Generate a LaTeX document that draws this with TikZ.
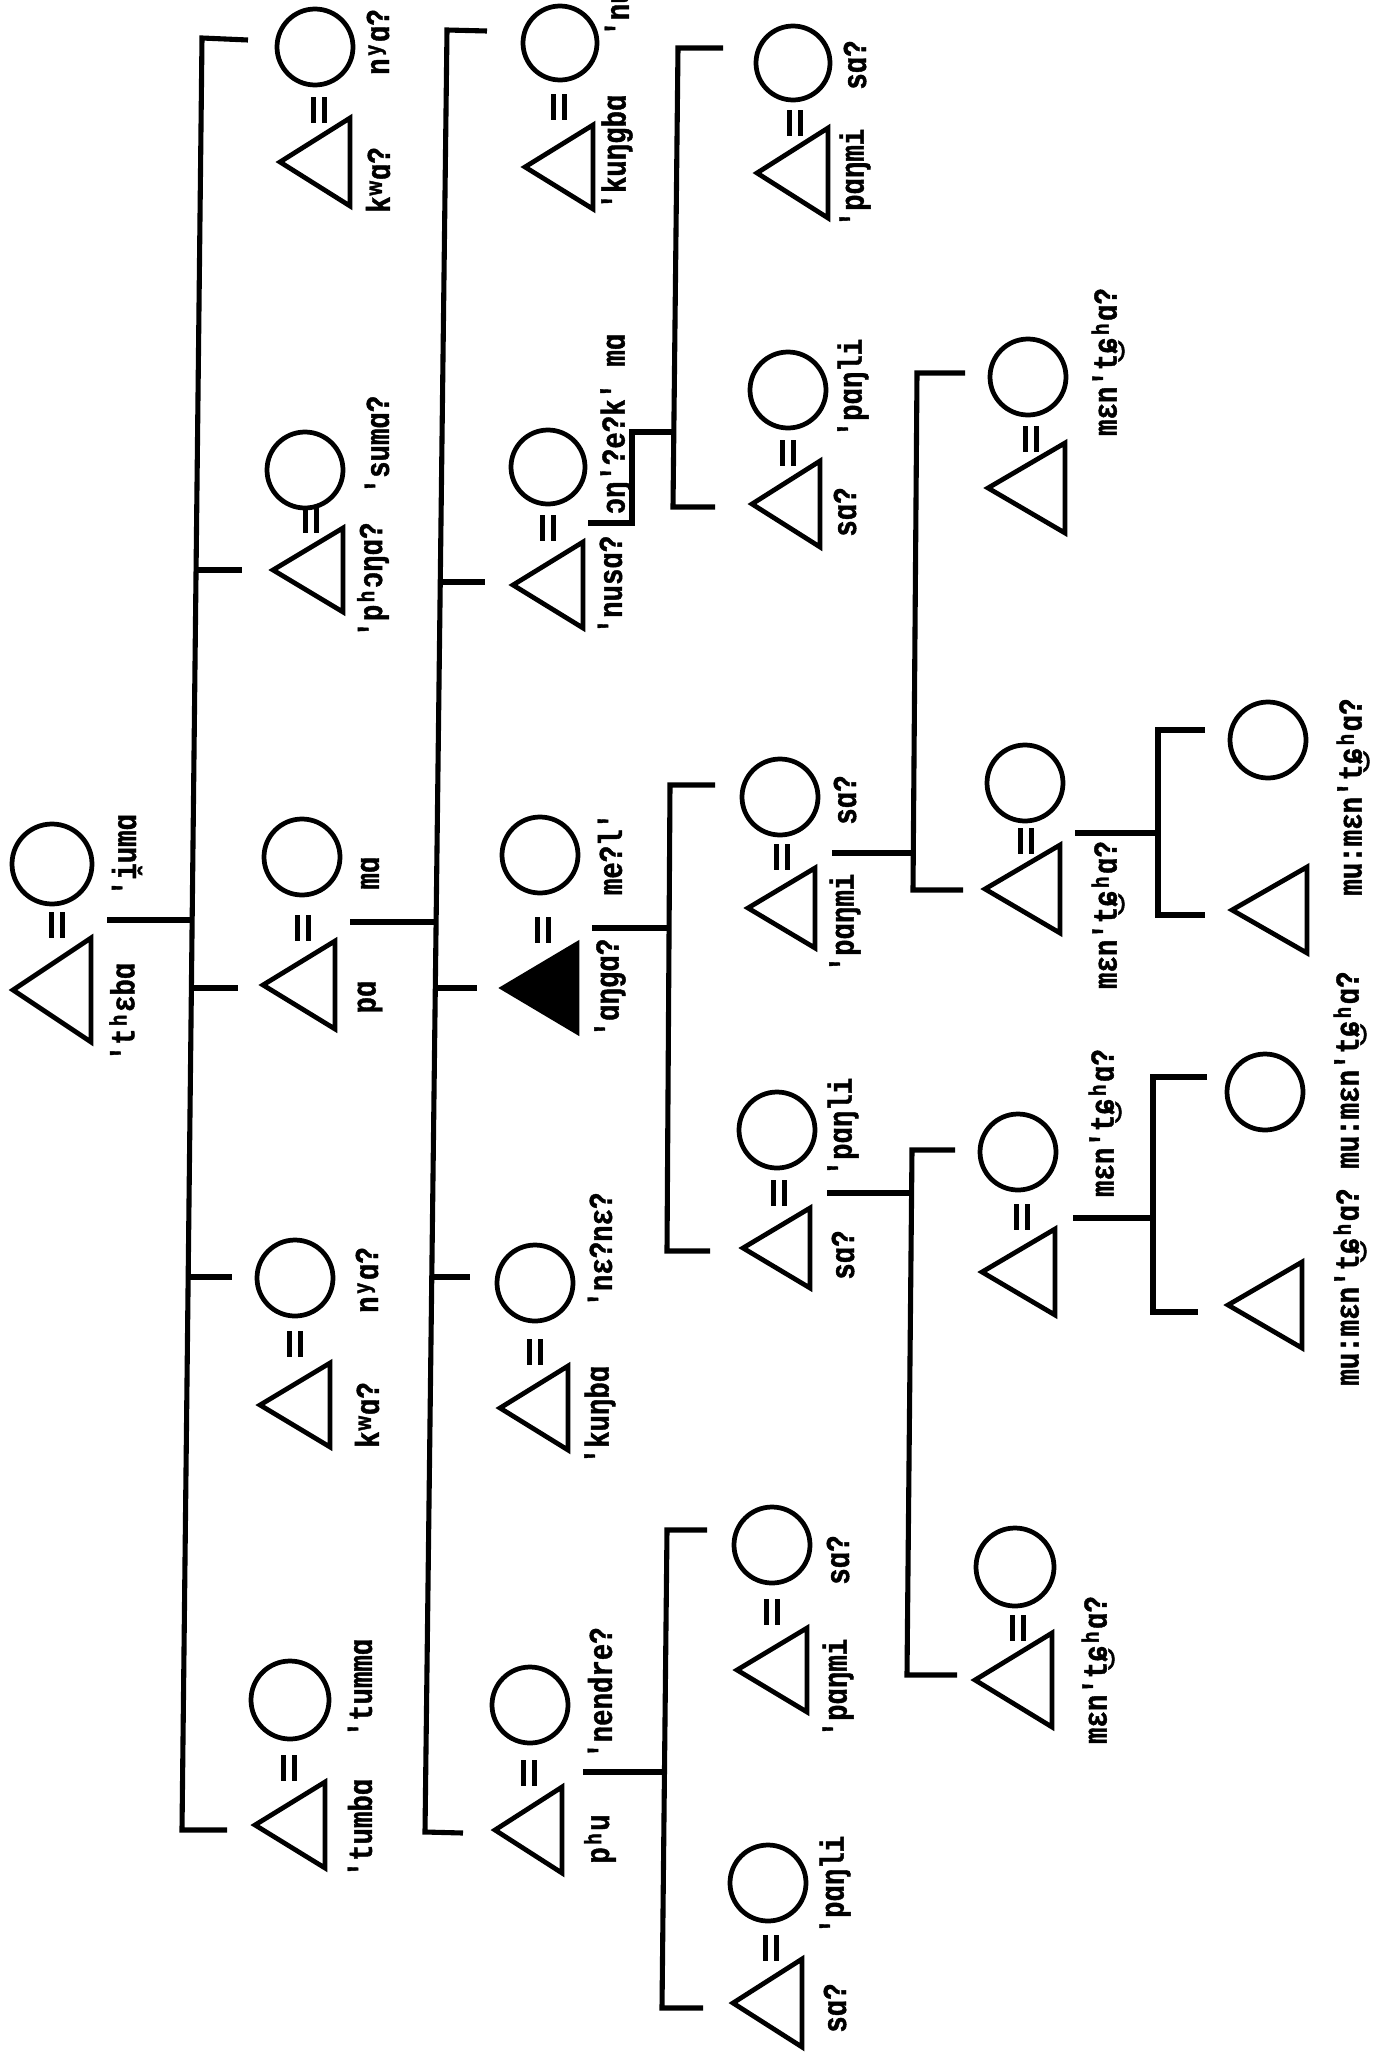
\documentclass[tikz,border=0pt]{standalone}
\usepackage{fontspec}
\newfontfamily\tw{Liberation Mono}[FakeStretch=0.82, BoldFeatures={FakeBold=1.2}]
\newcommand\tri[4]{\draw[shp] (#1,#2) -- ({#3},{#2-#4}) -- ({#3},{#2+#4}) -- cycle;}
\newcommand\ftri[4]{\filldraw[shp] (#1,#2) -- ({#3},{#2-#4}) -- ({#3},{#2+#4}) -- cycle;}
\newcommand\cir[3]{\draw[shp] (#1,#2) circle[radius=#3];}
\newcommand\eqs[2]{\draw[eqline] ({#1-5.5},{#2-13}) -- ({#1-5.5},{#2+13}) ({#1+5.5},{#2-13}) -- ({#1+5.5},{#2+13});}
\begin{document}
\begin{tikzpicture}[x=0.02cm,y=-0.02cm,
  ln/.style={line width=2.9pt, line join=miter},
  shp/.style={line width=2.7pt, line join=miter},
  eqline/.style={line width=2.5pt},
  lbl/.style={rotate=90, inner sep=0pt, font=\tw\bfseries\fontsize{19}{19}\selectfont}]
\useasboundingbox (0,0) rectangle (1376,2052);
\fill[white] (0,0) rectangle (1376,2052);

% ---------- generation 1 ----------
\tri{13}{990}{91}{52}
\cir{52}{864}{40}
\eqs{57}{925}
\node[lbl] (l01) at (122,1012) {'tʰɛbɑ};
\node[lbl] (l02) at (127,855) {'i̯umɑ};
\draw[ln] (107,920) -- (192,920);
\draw[ln] (248,40) -- (202,38) -- (182,1830) -- (227,1830);
\draw[ln] (196,570) -- (242,570);
\draw[ln] (191.5,988) -- (238,988);
\draw[ln] (188,1277) -- (232,1277);

% ---------- generation 2 ----------
\cir{315}{47}{38} \tri{280}{162}{350}{44} \eqs{319}{110}
\node[lbl] (l03) at (378,42) {nʸɑ?};
\node[lbl] (l04) at (378,180) {kʷɑ?};

\tri{273}{570}{343}{42} \cir{305}{470}{38} \eqs{311}{520}
\node[lbl] (l05) at (373,580) {'pʰɔŋɑ?};
\node[lbl] (l06) at (377,445) {'sumɑ?};

\cir{302}{857}{38} \tri{263}{985}{335}{44} \eqs{303}{928}
\node[lbl] (l07) at (370,873) {mɑ};
\node[lbl] (l08) at (370,997) {pɑ};
\draw[ln] (350,922) -- (436,922);

\cir{295}{1278}{38} \tri{260}{1405}{330}{42} \eqs{295}{1344}
\node[lbl] (l09) at (367,1280) {nʸɑ?};
\node[lbl] (l10) at (367,1415) {kʷɑ?};

\tri{255}{1825}{325}{43} \cir{290}{1700}{39} \eqs{289}{1768}
\node[lbl] (l11) at (360,1828) {'tumbɑ};
\node[lbl] (l12) at (360,1688) {'tummɑ};

\draw[ln] (487,31) -- (447,30) -- (425,1832) -- (463,1833);
\draw[ln] (440,582) -- (485,582);
\draw[ln] (435,988) -- (477,988);
\draw[ln] (432,1277) -- (470,1277);

% ---------- children of pa = ma ----------
\cir{560}{43}{37} \tri{525}{167}{593}{42} \eqs{559}{107}
\node[lbl] (l13) at (617,152) {'kuŋgbɑ};
\node[lbl,anchor=west] (l14) at (617,37) {'nusɑ?};

\tri{513}{585}{583}{43} \cir{548}{467}{37} \eqs{548}{528}
\node[lbl] (l15) at (610,585) {'nusɑ?};
\node[lbl] (l16) at (616,424) {ɔŋ'?e?k' mɑ};
\draw[ln] (588,523) -- (632,523) -- (632,432) -- (676,432);

\cir{540}{855}{38} \ftri{503}{988}{577}{44} \eqs{543}{930}
\node[lbl] (l17) at (610,854) {me?l'};
\node[lbl] (l18) at (610,988) {'ɑŋgɑ?};
\draw[ln] (592,928) -- (670,928);

\cir{535}{1283}{38} \tri{500}{1408}{568}{42} \eqs{535}{1352}
\node[lbl] (l19) at (600,1250) {'nɛ?nɛ?};
\node[lbl] (l20) at (600,1415) {'kuŋbɑ};

\cir{530}{1705}{38} \tri{495}{1830}{562}{43} \eqs{529}{1773}
\node[lbl] (l21) at (600,1693) {'nendre?};
\node[lbl] (l22) at (600,1839) {pʰu};
\draw[ln] (583,1772) -- (665,1772);

% ---------- generation 3 ----------
\draw[ln] (715,785) -- (670,785) -- (667,1251) -- (710,1251);
\cir{780}{797}{38} \tri{748}{908}{815}{40} \eqs{782}{857}
\node[lbl] (l23) at (845,800) {sɑ?};
\node[lbl] (l24) at (845,923) {'pɑŋmi};
\draw[ln] (832,853) -- (913,853);

\cir{777}{1130}{38} \tri{743}{1248}{810}{40} \eqs{779}{1193}
\node[lbl] (l25) at (843,1127) {'pɑŋli};
\node[lbl] (l26) at (843,1255) {sɑ?};
\draw[ln] (827,1193) -- (910,1193);

\draw[ln] (707,1530) -- (667,1530) -- (662,2008) -- (703,2008);
\cir{772}{1545}{38} \tri{737}{1670}{807}{42} \eqs{772}{1612}
\node[lbl] (l27) at (838,1560) {sɑ?};
\node[lbl] (l28) at (838,1688) {'pɑŋmi};

\cir{768}{1883}{38} \tri{733}{2003}{802}{44} \eqs{771}{1948}
\node[lbl] (l29) at (835,1885) {'pɑŋli};
\node[lbl] (l30) at (835,2008) {sɑ?};

% ---------- generation 4 (top) ----------
\draw[ln] (723,48) -- (678,48) -- (673,507) -- (715,507);
\cir{793}{63}{37} \tri{757}{173}{828}{45} \eqs{795}{123}
\node[lbl] (l31) at (855,65) {sɑ?};
\node[lbl] (l32) at (855,178) {'pɑŋmi};

\cir{788}{390}{38} \tri{752}{504}{820}{43} \eqs{788}{453}
\node[lbl] (l33) at (853,388) {'pɑŋli};
\node[lbl] (l34) at (845,512) {sɑ?};

% ---------- generation 5 ----------
\draw[ln] (965,373) -- (917,373) -- (913,890) -- (963,890);
\cir{1028}{377}{38} \tri{988}{488}{1065}{45} \eqs{1031}{439}
\node[lbl] (l35) at (1108,362) {mɛn't͜ɕʰɑ?};

\cir{1025}{783}{38} \tri{985}{889}{1060}{44} \eqs{1026}{841}
\node[lbl] (l36) at (1108,915) {mɛn't͜ɕʰɑ?};
\draw[ln] (1075,833) -- (1158,833);
\draw[ln] (1205,730) -- (1158,730) -- (1158,915) -- (1205,915);
\cir{1268}{740}{38} \tri{1232}{910}{1307}{43}
\node[lbl] (l37) at (1353,797) {mu:mɛn't͜ɕʰɑ?};

\draw[ln] (955,1150) -- (912,1150) -- (907,1675) -- (957,1675);
\cir{1018}{1152}{38} \tri{982}{1272}{1055}{43} \eqs{1022}{1217}
\node[lbl] (l38) at (1105,1123) {mɛn't͜ɕʰɑ?};
\draw[ln] (1073,1218) -- (1153,1218);
\draw[ln] (1207,1077) -- (1153,1077) -- (1153,1312) -- (1198,1312);
\cir{1265}{1092}{38} \tri{1228}{1305}{1302}{43}
\node[lbl] (l39) at (1350,1070) {mu:mɛn't͜ɕʰɑ?};
\node[lbl] (l40) at (1350,1287) {mu:mɛn't͜ɕʰɑ?};

\cir{1015}{1567}{39} \tri{975}{1680}{1052}{47} \eqs{1018}{1628}
\node[lbl] (l41) at (1098,1670) {mɛn't͜ɕʰɑ?};
\end{tikzpicture}
\end{document}
